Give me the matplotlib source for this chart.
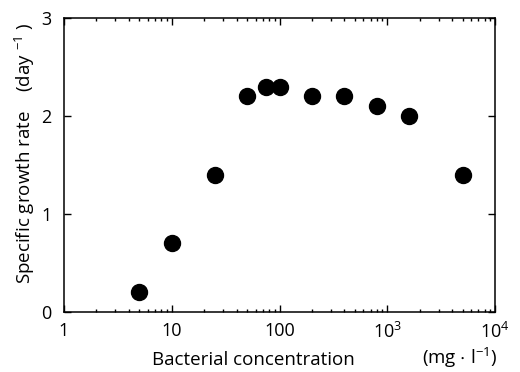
import matplotlib
matplotlib.use("Agg")
import matplotlib.pyplot as plt
from matplotlib.ticker import FixedLocator, LogLocator, NullFormatter

plt.rcParams['font.family'] = ['Open Sans', 'DejaVu Sans']
plt.rcParams['mathtext.fontset'] = 'custom'
plt.rcParams['mathtext.rm'] = 'Open Sans'
plt.rcParams['mathtext.it'] = 'Open Sans'

conc = [5, 10, 25, 50, 75, 100, 200, 400, 800, 1600, 5000]
rate = [0.2, 0.7, 1.4, 2.2, 2.3, 2.3, 2.2, 2.2, 2.1, 2.0, 1.4]
xticks = [1, 10, 100, 1000, 10000]
xticklabels = ['1', '10', '100', '$\\mathregular{10^3}$', '$\\mathregular{10^4}$']
yticks = [0, 1, 2, 3]

fig = plt.figure(figsize=(5.2, 3.72), dpi=100)
ax = fig.add_axes([64/520, 1 - 312/372, (495-64)/520, (312-18)/372])
ax.plot(conc, rate, 'o', color='black', markersize=11.5, linestyle='none')
ax.set_xscale('log')
ax.set_xlim(1, 10000)
ax.set_ylim(0, 3)
ax.xaxis.set_major_locator(FixedLocator(xticks))
ax.set_xticklabels(xticklabels)
ax.xaxis.set_minor_locator(LogLocator(base=10, subs=range(2, 10)))
ax.xaxis.set_minor_formatter(NullFormatter())
ax.set_yticks(yticks)
ax.tick_params(which='both', direction='in', top=True, right=True, labelsize=13, width=1)
ax.tick_params(which='major', length=5)
ax.tick_params(axis='x', which='major', pad=7)
ax.tick_params(axis='y', which='major', pad=9)
ax.tick_params(which='minor', length=2.5)
for s in ax.spines.values():
    s.set_linewidth(1.1)

ax.set_ylabel('Specific growth rate    (day $\\mathregular{^{-1}}$ )', fontsize=13.5)
ax.yaxis.set_label_coords(-0.062, 0.54)
fig.text(253/520, 1 - 360/372, 'Bacterial concentration', fontsize=13.5, ha='center', va='center')
fig.text(460/520, 1 - 358/372, '(mg $\\mathregular{\\cdot}$ l$\\mathregular{^{-1}}$)', fontsize=13.5, ha='center', va='center')

fig.savefig('out.png', dpi=100)
